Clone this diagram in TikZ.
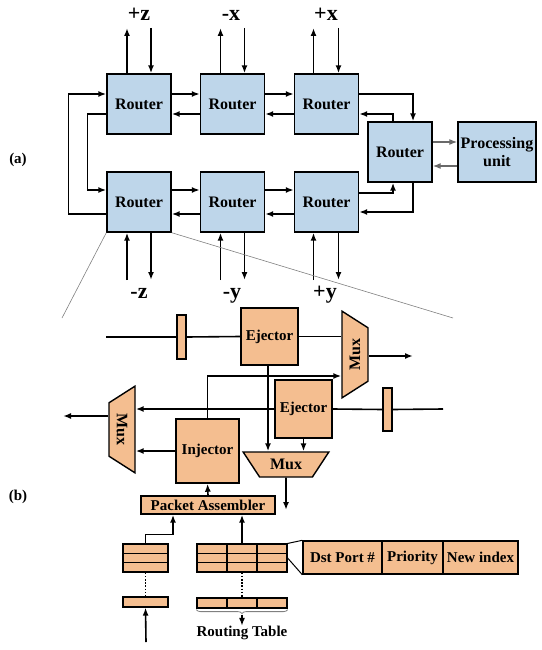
\documentclass[tikz,border=0pt]{standalone}
\usepackage{fontspec}
\setmainfont{Liberation Serif}
\usetikzlibrary{arrows.meta,shapes.geometric,decorations.pathreplacing}
\definecolor{routerblue}{RGB}{190,214,234}
\definecolor{peach}{RGB}{244,190,144}
\definecolor{linkgray}{RGB}{105,105,105}
\tikzstyle{router}=[draw, line width=1.4pt, fill=routerblue, minimum width=64pt, minimum height=60pt, inner sep=0pt, font=\fontsize{16}{18}\selectfont\bfseries]
\tikzstyle{pu}=[router, minimum width=78pt, align=center]
\tikzstyle{dirlabel}=[inner sep=0pt, inner ysep=7pt, text height=11pt, text depth=0pt, font=\fontsize{22}{24}\selectfont\bfseries]
\tikzstyle{tag}=[inner sep=0pt, font=\fontsize{15}{17}\selectfont\bfseries]
\tikzstyle{block}=[draw, line width=1.4pt, fill=peach, minimum width=57pt, minimum height=57pt, inner sep=0pt, font=\fontsize{15}{17}\selectfont\bfseries]
\tikzstyle{reg}=[draw, line width=1.2pt, fill=peach, minimum width=9pt, minimum height=44pt, inner sep=0pt]
\tikzstyle{mux}=[trapezium, draw, line width=1.4pt, fill=peach, trapezium angle=47, trapezium stretches=true, shape border rotate=180, minimum width=87pt, minimum height=26pt, inner sep=0pt, font=\fontsize{16}{18}\selectfont\bfseries]
\tikzstyle{cell}=[draw, line width=1.2pt, fill=peach, minimum width=30pt, minimum height=9.3pt, inner sep=0pt]
\tikzstyle{qcell}=[cell, minimum width=45pt]
\tikzstyle{field}=[draw, line width=1.4pt, fill=peach, minimum height=33pt, inner sep=0pt, font=\fontsize{15}{17}\selectfont\bfseries]
\tikzstyle{arrow}=[line width=1.6pt, -{Latex[length=8pt,width=6pt]}]
\tikzstyle{wire}=[line width=1.6pt]
\tikzstyle{dots}=[line width=1.6pt, dash pattern=on 1.6pt off 1.6pt]
\tikzstyle{zoomline}=[line width=0.6pt, gray]

\begin{document}
\begin{tikzpicture}[x=1pt, y=-1pt]
	\useasboundingbox (0,0) rectangle (541,650);
	% (a) routers
	\begin{scope}
		\node (taga) at (18,160) [tag] {(a)};
		\node (r1) at (139,104) [router] {Router};
		\node (r2) at (232.5,104) [router] {Router};
		\node (r3) at (326.5,104) [router] {Router};
		\node (r4) at (400,152) [router] {Router};
		\node (pu) at (497,152) [pu] {Processing\\unit};
		\node (rb1) at (139,202) [router] {Router};
		\node (rb2) at (232.5,202) [router] {Router};
		\node (rb3) at (326.5,202) [router] {Router};
		\node (pz) at (139,28) [dirlabel, anchor=south] {+z};
		\node (mx) at (231,28) [dirlabel, anchor=south] {-x};
		\node (px) at (326,28) [dirlabel, anchor=south] {+x};
		\node (mz) at (139,280) [dirlabel, anchor=north] {-z};
		\node (my) at (232,280) [dirlabel, anchor=north] {-y};
		\node (py) at (325,280) [dirlabel, anchor=north] {+y};
	\end{scope}
	\begin{scope}
		\draw[arrow] ([yshift=10pt]r1.east) -- ([yshift=10pt]r2.west);
		\draw[arrow] ([yshift=-10pt]r2.west) -- ([yshift=-10pt]r1.east);
		\draw[arrow] ([yshift=10pt]r2.east) -- ([yshift=10pt]r3.west);
		\draw[arrow] ([yshift=-10pt]r3.west) -- ([yshift=-10pt]r2.east);
		\draw[arrow] ([yshift=12pt]rb1.east) -- ([yshift=12pt]rb2.west);
		\draw[arrow] ([yshift=-12pt]rb2.west) -- ([yshift=-12pt]rb1.east);
		\draw[arrow] ([yshift=12pt]rb2.east) -- ([yshift=12pt]rb3.west);
		\draw[arrow] ([yshift=-12pt]rb3.west) -- ([yshift=-12pt]rb2.east);
		% wrap links on the left
		\draw[arrow] ([yshift=-12pt]rb1.west) -- ++(-38,0) |- ([yshift=10pt]r1.west);
		\draw[arrow] ([yshift=-10pt]r1.west) -- ++(-19,0) |- ([yshift=12pt]rb1.west);
		% links to the router of the processing unit
		\draw[arrow] ([yshift=10pt]r3.east) -| ([xshift=13pt]r4.north);
		\draw[arrow] ([xshift=-7pt]r4.north) |- ([yshift=-10pt]r3.east);
		\draw[arrow] ([yshift=9pt]rb3.east) -| ([xshift=-7pt]r4.south);
		\draw[arrow] ([xshift=13pt]r4.south) |- ([yshift=-10pt]rb3.east);
		\draw[arrow, linkgray, line width=1.2pt] ([yshift=10pt]r4.east) -- ([yshift=10pt]pu.west);
		\draw[arrow, linkgray, line width=1.2pt] ([yshift=-14pt]pu.west) -- ([yshift=-14pt]r4.east);
		% ports
		\draw[arrow] ([xshift=-12pt]r1.north) -- ([xshift=-12pt]r1.north |- pz.south);
		\draw[arrow] ([xshift=12pt]r1.north |- pz.south) -- ([xshift=12pt]r1.north);
		\draw[arrow] ([xshift=-12pt]r2.north) -- ([xshift=-12pt]r2.north |- mx.south);
		\draw[arrow] ([xshift=12pt]r2.north |- mx.south) -- ([xshift=12pt]r2.north);
		\draw[arrow] ([xshift=-13pt]r3.north) -- ([xshift=-13pt]r3.north |- px.south);
		\draw[arrow] ([xshift=12pt]r3.north |- px.south) -- ([xshift=12pt]r3.north);
		\draw[arrow] ([xshift=-12pt]rb1.south |- mz.north) -- ([xshift=-12pt]rb1.south);
		\draw[arrow] ([xshift=12pt]rb1.south) -- ([xshift=12pt]rb1.south |- mz.north);
		\draw[arrow] ([xshift=-12pt]rb2.south |- my.north) -- ([xshift=-12pt]rb2.south);
		\draw[arrow] ([xshift=12pt]rb2.south) -- ([xshift=12pt]rb2.south |- my.north);
		\draw[arrow] ([xshift=-13pt]rb3.south |- py.north) -- ([xshift=-13pt]rb3.south);
		\draw[arrow] ([xshift=12pt]rb3.south) -- ([xshift=12pt]rb3.south |- py.north);
	\end{scope}
	% zoom into one router
	\coordinate (zl) at (62,318);
	\coordinate (zr) at (453,318);
	\draw[zoomline] (rb1.south west) -- (zl);
	\draw[zoomline] (rb1.south east) -- (zr);
	% (b) inside the router
	\begin{scope}
		\node (tagb) at (18,497) [tag] {(b)};
		\node (ej1) at (269.5,336.5) [block] {Ejector};
		\node (ej2) at (303.5,409) [block, minimum height=58pt] {Ejector};
		\node (inj) at (207.5,451) [block, minimum width=63pt, minimum height=64pt] {Injector};
		\node (reg1) at (181.5,337) [reg] {};
		\node (reg2) at (387.5,409.5) [reg, minimum height=43pt] {};
		\node (muxr) at (355,354.5) [mux, rotate=90] {Mux};
		\node (muxl) at (122,429.5) [mux, rotate=-90] {Mux};
		\node (muxb) at (286,464.5) [mux, minimum width=86pt, minimum height=25pt] {Mux};
		\node (pa) at (208,505) [block, minimum width=134pt, minimum height=18pt] {Packet Assembler};
		\node (qa) at (145.5,548.7) [qcell] {};
		\node (qb) at (145.5,558) [qcell] {};
		\node (qc) at (145.5,567.3) [qcell] {};
		\node (qd) at (145.5,602) [qcell, minimum height=10pt] {};
		\node (t11) at (212,548.7) [cell] {};
		\node (t12) at (242,548.7) [cell] {};
		\node (t13) at (272,548.7) [cell] {};
		\node (t21) at (212,558) [cell] {};
		\node (t22) at (242,558) [cell] {};
		\node (t23) at (272,558) [cell] {};
		\node (t31) at (212,567.3) [cell] {};
		\node (t32) at (242,567.3) [cell] {};
		\node (t33) at (272,567.3) [cell] {};
		\node (b1) at (212,603) [cell, minimum height=10pt] {};
		\node (b2) at (242,603) [cell, minimum height=10pt] {};
		\node (b3) at (272,603) [cell, minimum height=10pt] {};
		\node (rtl) at (242,633) [tag] {Routing Table};
		\node (f1) at (342.5,557.5) [field, minimum width=79pt] {Dst Port \#};
		\node (f2) at (412.5,557.5) [field, minimum width=61pt] {Priority};
		\node (f3) at (480.5,557.5) [field, minimum width=75pt] {New index};
		\coordinate (inA) at (106,337);
		\coordinate (inB) at (443,409);
		\coordinate (outR) at (413,356);
		\coordinate (outL) at (63,416);
		\coordinate (outM) at (286,510);
		\coordinate (inQ) at (146,642);
	\end{scope}
	\begin{scope}
		\draw[wire] (inA) -- (reg1.west);
		\draw[wire] (reg1.east) -- (ej1.west);
		\draw[wire] (ej1.east) -- (ej1.east -| muxr.north);
		\draw[arrow] (inj.north) |- ([yshift=-21.5pt]muxr.north);
		\draw[arrow] (outR -| muxr.south) -- (outR);
		\draw[wire] (inB) -- (reg2.east);
		\draw[wire] (reg2.west) -- (ej2.east);
		\draw[arrow] (ej2.west) -- (ej2.west -| muxl.north);
		\draw[arrow] (inj.west) -- (inj.west -| muxl.north);
		\draw[arrow] (outL -| muxl.south) -- (outL);
		\draw[arrow] ([xshift=-1.5pt]ej1.south) -- ([xshift=-1.5pt]ej1.south |- muxb.north);
		\draw[arrow] (ej2.south) -- (ej2.south |- muxb.north);
		\draw[arrow] (muxb.south) -- (outM);
		\draw[arrow] (pa.north) -- (inj.south);
		\draw[arrow] (qa.north) -- ++(0,-9) -| ([xshift=-35pt]pa.south);
		\draw[arrow] (t12.north) -- (t12.north |- pa.south);
		\draw[dots] (qc.south) -- (qd.north);
		\draw[dots] (t32.south) -- (b2.north);
		\draw[arrow] (inQ) -- (qd.south);
		\draw[gray, line width=0.8pt, decorate, decoration={brace, mirror, amplitude=4pt, raise=1pt}] (b1.south west) -- (b3.south east);
		\draw[arrow] ([yshift=-6pt]b2.south) -- (rtl.north);
		\draw[line width=1pt] (t13.north east) -- (f1.north west);
		\draw[line width=1pt] (t23.east) -- (f1.south west);
	\end{scope}
\end{tikzpicture}
\end{document}
